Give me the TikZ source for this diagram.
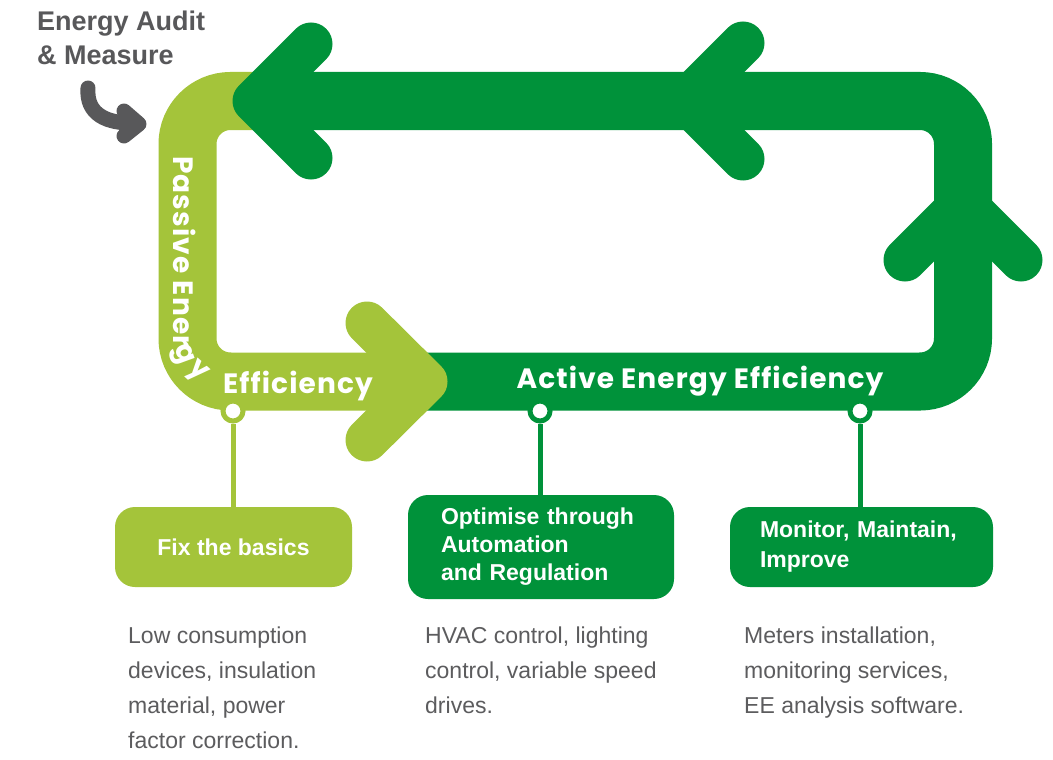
\documentclass[tikz,border=0pt]{standalone}
\usepackage{fontspec}
\setmainfont{Liberation Sans}
\newfontfamily\bandfont{Poppins}[LetterSpace=4]
\definecolor{dkg}{HTML}{00923A}
\definecolor{ltg}{HTML}{A4C43A}
\definecolor{gry}{HTML}{58585A}
\definecolor{txtg}{HTML}{5C5C5E}
\begin{document}
\begin{tikzpicture}[x=1pt,y=-1pt,
  band/.style={line width=58pt, rounded corners=43pt},
  chev/.style={line width=43pt, line cap=round, line join=round},
  ring/.style={circle, draw=#1, fill=white, line width=5pt, minimum size=20pt, inner sep=0pt},
  stem/.style={draw=#1, line width=5pt},
  boxnode/.style={fill=#1, rounded corners=20pt, text=white, inner sep=0pt},
  boxfont/.style={font=\fontsize{23}{#1}\selectfont\bfseries},
  desc/.style={anchor=base west, align=left, inner sep=0pt, text=txtg, font=\fontsize{23}{35}\selectfont},
  bandtext/.style={text=white, inner sep=0pt, font=\bandfont\fontsize{28}{28}\selectfont\bfseries},
]
\useasboundingbox (0,0) rectangle (1053,760);
\fill[white] (0,0) rectangle (1053,760);

% loop bands
\draw[band, dkg] (270,101) -- (963,101) -- (963,381.5) -- (415,381.5);
\draw[band, ltg] (270,101) -- (187.5,101) -- (187.5,381.5) -- (418,381.5);

% arrowheads
\draw[chev, ltg] (367,323) -- (426,381.5) -- (367,440);
\draw[chev, dkg] (311,44) -- (254,101) -- (311,158);
\draw[chev, dkg] (743,43) -- (685,101) -- (743,159);
\draw[chev, dkg] (905,260) -- (963,202) -- (1021,260);

% band texts (the word bends round the corner)
\node[bandtext, rotate=-90, anchor=base west] (pe) at (173,156) {Passive Ener};
\node[bandtext, rotate=-70, anchor=base west] (pg) at (174,347) {g};
\node[bandtext, rotate=-42, anchor=base west] (py) at (187,369) {y};
\node[bandtext, anchor=base west] (eff) at (223,393) {Efficiency};
\node[bandtext, anchor=base] (act) at (700,388) {Active Energy Efficiency};

% audit label and arrow
\node[anchor=base west, align=left, inner sep=0pt, text=gry,
  font=\fontsize{27}{34}\selectfont\bfseries] (audit) at (37,65) {Energy Audit\\\& Measure};
\coordinate (ga) at (88,88);
\coordinate (gb) at (136,123);
\draw[gry, line width=15pt, line cap=round] (ga) .. controls (86,114) and (106,124) .. (gb);
\draw[gry, line width=15pt, line cap=round, line join=round] (124,111) -- (139,124) -- (124,136);

% boxes
\node[boxnode=ltg, boxfont=28, minimum width=237pt, minimum height=80pt] (b1) at (233.5,547) {Fix the basics};
\node[boxnode=dkg, boxfont=28, minimum width=266pt, minimum height=104pt, text width=200pt, align=left] (b2) at (541,547) {Optimise through\\Automation\\and Regulation};
\node[boxnode=dkg, boxfont=30, minimum width=263pt, minimum height=80pt, text width=203pt, align=left] (b3) at (861.5,547) {Monitor, Maintain,\\Improve};

% connectors
\node[ring=ltg] (c1) at (233,411) {};
\node[ring=dkg] (c2) at (540,411) {};
\node[ring=dkg] (c3) at (860,411) {};
\draw[stem=ltg] (c1.south) -- (c1.south |- b1.north);
\draw[stem=dkg] (c2.south) -- (c2.south |- b2.north);
\draw[stem=dkg] (c3.south) -- (c3.south |- b3.north);

% descriptions (anchored at the last line's baseline)
\node[desc] (d1) at (128,748) {Low consumption\\devices, insulation\\material, power\\factor correction.};
\node[desc] (d2) at (425,713) {HVAC control, lighting\\control, variable speed\\drives.};
\node[desc] (d3) at (744,713) {Meters installation,\\monitoring services,\\EE analysis software.};
\end{tikzpicture}
\end{document}
